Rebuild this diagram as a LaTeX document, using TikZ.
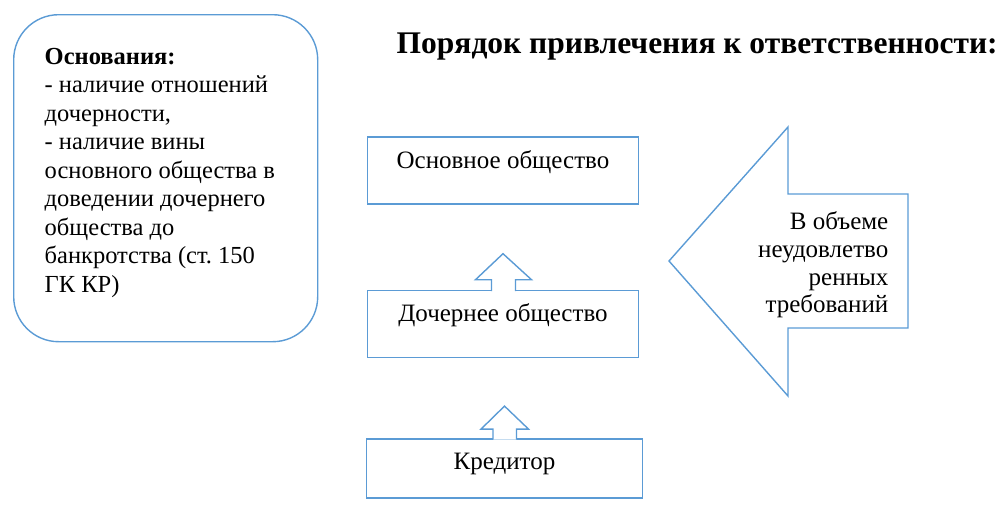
\documentclass[tikz,border=0pt]{standalone}
\usepackage{fontspec}
\setmainfont{Liberation Serif}
\usetikzlibrary{positioning,calc}
\definecolor{frame}{HTML}{5B9BD5}
\frenchspacing

\begin{document}
\begin{tikzpicture}[x=1pt, y=-1pt, line width=1.4pt, line join=miter,
  box/.style={draw=frame, minimum width=271pt, minimum height=67pt, inner sep=0pt,
    font=\rmfamily\fontsize{25}{28}\selectfont, text height=16pt, text depth=21pt},
  blockup/.style={draw=frame, fill=white}]
  \useasboundingbox (0,0) rectangle (1004,504);
  % left box with the grounds
  \node[draw=frame, rounded corners=45pt, anchor=north west, minimum width=304pt,
    minimum height=327pt] (basis) at (13,14) {};
  \node[anchor=north west, inner sep=0pt, align=left,
    font=\rmfamily\fontsize{24.5}{28.5}\selectfont] (grounds) at (44,47.5)
    {\textbf{Основания:}\\- наличие отношений\\дочерности,\\- наличие вины\\основного общества в\\доведении дочернего\\общества до\\банкротства (ст. 150\\ГК КР)};
  \node[anchor=base west, inner sep=0pt, font=\rmfamily\fontsize{31.5}{36}\selectfont\bfseries] (title) at (396,53)
    {Порядок привлечения к ответственности:};
  % chain of companies
  \node[box] (parent) at (503,170.5) {Основное общество};
  \node[box, below=85pt of parent] (child) {Дочернее общество};
  \node[box, minimum width=276pt, minimum height=59pt, text height=16pt, text depth=14pt,
    below=80pt of child, xshift=1.5pt] (creditor) {Кредитор};
  \filldraw[blockup] ($(child.north)+(-11.5,1.5)$) -- ++(0,-11.5) -- ++(-16,0)
    -- ($(child.north)+(0,-36)$) -- ($(child.north)+(28.5,-10)$) -- ++(-16,0) -- ++(0,11.5);
  \filldraw[blockup] ($(creditor.north)+(-11.5,1.5)$) -- ++(0,-10.5) -- ++(-12,0)
    -- ($(creditor.north)+(0,-32)$) -- ($(creditor.north)+(24,-9)$) -- ++(-12,0) -- ++(0,10.5);
  % big arrow towards the chain
  \coordinate (tip) at (669,261);
  \draw[draw=frame] (tip) -- (788,127) -- (788,194) -- (908,194) -- (908,328)
    -- (788,328) -- (788,396) -- cycle;
  \node[anchor=east, inner sep=0pt, align=right, font=\rmfamily\fontsize{25}{27.7}\selectfont] (scope) at (889,265)
    {В объеме\\неудовлетво\\ренных\\требований};
\end{tikzpicture}
\end{document}
